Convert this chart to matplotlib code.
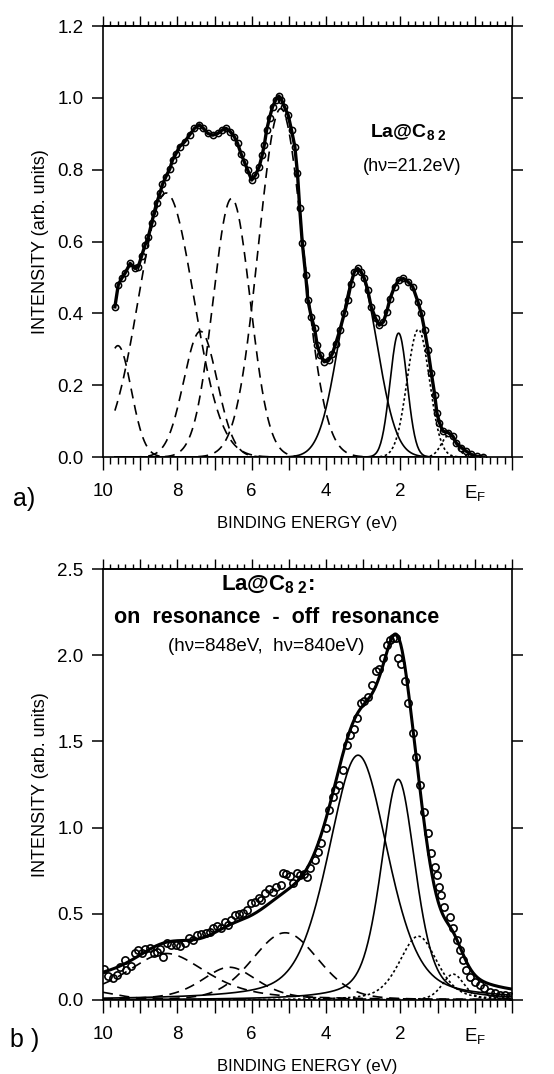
import numpy as np
import matplotlib
matplotlib.use("Agg")
import matplotlib.pyplot as plt
from matplotlib.ticker import MultipleLocator, FuncFormatter, FormatStrFormatter

plt.rcParams['font.family'] = ['Liberation Sans', 'DejaVu Sans']
plt.rcParams['mathtext.fontset'] = 'custom'
plt.rcParams['mathtext.rm'] = 'Liberation Sans'
plt.rcParams['mathtext.bf'] = 'Liberation Sans:bold'
plt.rcParams['mathtext.it'] = 'Liberation Sans:italic'

# ---- a) UPS spectrum, hv = 21.2 eV ----
top_energy = [9.68, 9.59, 9.50, 9.41, 9.27, 9.14, 9.05, 8.96, 8.87, 8.78,
              8.69, 8.63, 8.56, 8.47, 8.40, 8.31, 8.20, 8.13, 8.04, 7.94,
              7.80, 7.67, 7.54, 7.41, 7.30, 7.18, 7.05, 6.91, 6.80, 6.69,
              6.58, 6.47, 6.38, 6.29, 6.20, 6.11, 6.00, 5.90, 5.80, 5.72,
              5.66, 5.60, 5.52, 5.44, 5.35, 5.27, 5.20, 5.12, 5.02, 4.93,
              4.84, 4.77, 4.71, 4.64, 4.55, 4.49, 4.40, 4.31, 4.24, 4.16,
              4.05, 3.93, 3.83, 3.74, 3.63, 3.51, 3.42, 3.33, 3.24, 3.15,
              3.06, 2.97, 2.88, 2.79, 2.67, 2.57, 2.46, 2.37, 2.28, 2.16,
              2.05, 1.92, 1.80, 1.67, 1.53, 1.44, 1.35, 1.26, 1.17, 1.08,
              1.02, 0.95, 0.86, 0.72, 0.59, 0.50, 0.36, 0.23, 0.09, -0.05,
              -0.23]
top_intensity = [0.418, 0.479, 0.497, 0.511, 0.539, 0.525, 0.530, 0.560, 0.590, 0.613,
                 0.652, 0.678, 0.706, 0.734, 0.759, 0.780, 0.803, 0.827, 0.844, 0.864,
                 0.878, 0.897, 0.915, 0.925, 0.915, 0.901, 0.896, 0.901, 0.910, 0.915,
                 0.906, 0.892, 0.873, 0.845, 0.822, 0.799, 0.771, 0.785, 0.808, 0.840,
                 0.870, 0.910, 0.945, 0.975, 0.995, 1.005, 0.995, 0.975, 0.952, 0.910,
                 0.864, 0.790, 0.693, 0.596, 0.507, 0.437, 0.391, 0.358, 0.312, 0.284,
                 0.265, 0.269, 0.288, 0.316, 0.353, 0.400, 0.437, 0.483, 0.516, 0.525,
                 0.516, 0.497, 0.465, 0.419, 0.386, 0.367, 0.376, 0.404, 0.441, 0.474,
                 0.492, 0.497, 0.488, 0.474, 0.432, 0.400, 0.353, 0.298, 0.234, 0.174,
                 0.123, 0.095, 0.072, 0.068, 0.058, 0.039, 0.026, 0.016, 0.007, 0.002,
                 0.0]

# fitted gaussian components: centre (eV), height, sigma (eV)
top_dashed = [(9.60, 0.31, 0.36), (8.30, 0.735, 0.74), (7.38, 0.35, 0.45),
              (6.54, 0.72, 0.50), (5.22, 0.97, 0.60)]
top_solid = [(3.15, 0.52, 0.52), (2.05, 0.345, 0.23)]
top_dotted = [(1.52, 0.355, 0.30), (0.70, 0.06, 0.20)]

# ---- b) resonant difference spectrum ----
bot_energy = [9.97, 9.86, 9.74, 9.63, 9.53, 9.41, 9.37, 9.26, 9.14, 9.05,
              8.96, 8.87, 8.74, 8.63, 8.56, 8.47, 8.38, 8.29, 8.16, 8.04,
              7.94, 7.80, 7.69, 7.58, 7.48, 7.36, 7.24, 7.13, 7.04, 6.94,
              6.82, 6.73, 6.64, 6.55, 6.46, 6.34, 6.23, 6.12, 6.01, 5.92,
              5.80, 5.74, 5.65, 5.53, 5.44, 5.34, 5.22, 5.16, 5.07, 4.96,
              4.88, 4.79, 4.70, 4.60, 4.51, 4.42, 4.31, 4.22, 4.13, 4.00,
              3.91, 3.82, 3.75, 3.66, 3.55, 3.45, 3.37, 3.24, 3.16, 3.07,
              2.99, 2.88, 2.76, 2.65, 2.58, 2.46, 2.36, 2.27, 2.19, 2.12,
              2.06, 1.98, 1.89, 1.79, 1.67, 1.57, 1.47, 1.38, 1.26, 1.18,
              1.08, 1.03, 0.96, 0.90, 0.82, 0.67, 0.60, 0.49, 0.40, 0.31,
              0.23, 0.12, 0.00, -0.13, -0.26, -0.40, -0.54, -0.67, -0.81, -0.94]
bot_intensity = [0.178, 0.139, 0.126, 0.145, 0.189, 0.232, 0.174, 0.197, 0.271, 0.290,
                 0.275, 0.294, 0.300, 0.275, 0.280, 0.294, 0.251, 0.329, 0.319, 0.319,
                 0.313, 0.329, 0.358, 0.348, 0.377, 0.383, 0.387, 0.396, 0.416, 0.429,
                 0.416, 0.454, 0.435, 0.464, 0.493, 0.499, 0.503, 0.522, 0.561, 0.571,
                 0.590, 0.580, 0.619, 0.642, 0.629, 0.658, 0.667, 0.735, 0.731, 0.719,
                 0.677, 0.735, 0.725, 0.731, 0.716, 0.764, 0.812, 0.861, 0.908, 0.995,
                 1.102, 1.179, 1.220, 1.250, 1.332, 1.480, 1.535, 1.572, 1.636, 1.720,
                 1.734, 1.756, 1.830, 1.910, 1.920, 1.986, 2.060, 2.090, 2.100, 2.100,
                 1.986, 1.949, 1.848, 1.720, 1.550, 1.410, 1.250, 1.090, 0.970, 0.850,
                 0.770, 0.725, 0.658, 0.609, 0.541, 0.483, 0.416, 0.348, 0.290, 0.232,
                 0.174, 0.135, 0.107, 0.087, 0.068, 0.048, 0.039, 0.029, 0.029, 0.023]

# pseudo-voigt components: centre, height, half width, lorentz fraction
bot_dashed = [(10.30, 0.05, 0.80, 0.5), (8.30, 0.27, 1.30, 0.6),
              (6.60, 0.19, 0.90, 0.5), (5.10, 0.39, 1.05, 0.2)]
bot_solid = [(3.14, 1.42, 0.95, 0.4), (2.06, 1.28, 0.55, 0.45)]
bot_dotted = [(1.52, 0.37, 0.60, 0.4), (0.58, 0.15, 0.35, 0.3)]


def gauss(x, c, h, s):
    return h * np.exp(-(x - c) ** 2 / (2 * s ** 2))


def pvoigt(x, c, h, w, eta):
    u = ((x - c) / w) ** 2
    return h * (eta / (1 + u) + (1 - eta) * np.exp(-np.log(2) * u))


def e_label(v, pos):
    if abs(v) < 1e-6:
        return r'E$_\mathrm{F}$'
    if int(round(v)) % 2 == 0:
        return str(int(round(v)))
    return ''


def style(ax, ymax, ystep):
    ax.set_xlim(10, -1)
    ax.set_ylim(0, ymax)
    ax.xaxis.set_major_locator(MultipleLocator(1))
    ax.xaxis.set_minor_locator(MultipleLocator(0.2))
    ax.xaxis.set_major_formatter(FuncFormatter(e_label))
    ax.yaxis.set_major_locator(MultipleLocator(ystep))
    ax.yaxis.set_major_formatter(FormatStrFormatter('%.1f'))
    ax.tick_params(axis='x', which='major', direction='out', length=9, width=1,
                   pad=10, labelsize=13.5)
    ax.tick_params(axis='x', which='minor', direction='out', length=5, width=1)
    ax.tick_params(axis='y', which='major', direction='out', length=8, width=1.1,
                   left=True, right=True, labelsize=13.5, pad=6)
    for s in ax.spines.values():
        s.set_linewidth(1.2)
    top = ax.secondary_xaxis('top')
    top.xaxis.set_major_locator(MultipleLocator(1))
    top.xaxis.set_minor_locator(MultipleLocator(0.2))
    top.tick_params(which='major', direction='out', length=7, width=1, labeltop=False)
    top.tick_params(which='minor', direction='out', length=3.5, width=1)
    top.spines['top'].set_linewidth(1.2)
    ax.set_xlabel('BINDING ENERGY (eV)', fontsize=12, labelpad=9)
    ax.set_ylabel('INTENSITY (arb. units)', fontsize=13, labelpad=6)


fig = plt.figure(figsize=(5.54, 10.74), dpi=100)
ax1 = fig.add_axes([103 / 554, 1 - 457 / 1074, 409 / 554, 431 / 1074])
ax2 = fig.add_axes([103 / 554, 1 - 1000 / 1074, 409 / 554, 431 / 1074])

# panel a
xa = np.linspace(9.68, -0.2, 500)
for c, h, s in top_dashed:
    ax1.plot(xa, gauss(xa, c, h, s), color='black', lw=1.2, ls=(0, (6, 4)))
for c, h, s in top_solid:
    ax1.plot(xa, gauss(xa, c, h, s), color='black', lw=1.2)
for c, h, s in top_dotted:
    ax1.plot(xa, gauss(xa, c, h, s), color='black', lw=1.2, ls=(0, (1.5, 1.5)))
ax1.plot(top_energy, top_intensity, color='black', lw=2.4, marker='o',
         ms=4.5, mfc='none', mec='black', mew=1.1)
style(ax1, 1.2, 0.2)
ax1.text(1.80, 0.905, r'La@C$_{\mathbf{8\ 2}}$', fontsize=14, fontweight='bold',
         ha='center', va='center')
ax1.text(1.69, 0.81, '(h\u03bd=21.2eV)', fontsize=13, ha='center', va='center')

# panel b
xb = np.linspace(10, -1, 600)
total = np.zeros_like(xb)
for c, h, w, eta in bot_dashed:
    y = pvoigt(xb, c, h, w, eta)
    total += y
    ax2.plot(xb, y, color='black', lw=1.2, ls=(0, (6, 4)))
for c, h, w, eta in bot_solid:
    y = pvoigt(xb, c, h, w, eta)
    total += y
    ax2.plot(xb, y, color='black', lw=1.2)
for c, h, w, eta in bot_dotted:
    y = pvoigt(xb, c, h, w, eta)
    total += y
    ax2.plot(xb, y, color='black', lw=1.2, ls=(0, (1.5, 1.5)))
ax2.plot(xb, total, color='black', lw=2.2)
ax2.plot(bot_energy, bot_intensity, ls='none', marker='o', ms=5.2,
         mfc='none', mec='black', mew=1.2)
style(ax2, 2.5, 0.5)
ax2.text(5.56, 2.41, r'La@C$_{\mathbf{8\ 2}}$:', fontsize=16, fontweight='bold',
         ha='center', va='center')
ax2.text(5.32, 2.22, 'on  resonance  -  off  resonance', fontsize=15.5,
         fontweight='bold', ha='center', va='center')
ax2.text(5.62, 2.05, '(h\u03bd=848eV,  h\u03bd=840eV)', fontsize=13.5,
         ha='center', va='center')

fig.text(24 / 554, 1 - 499 / 1074, 'a)', fontsize=18, ha='center', va='center')
fig.text(25 / 554, 1 - 1040 / 1074, 'b )', fontsize=18, ha='center', va='center')

fig.savefig('out.png', dpi=100)
